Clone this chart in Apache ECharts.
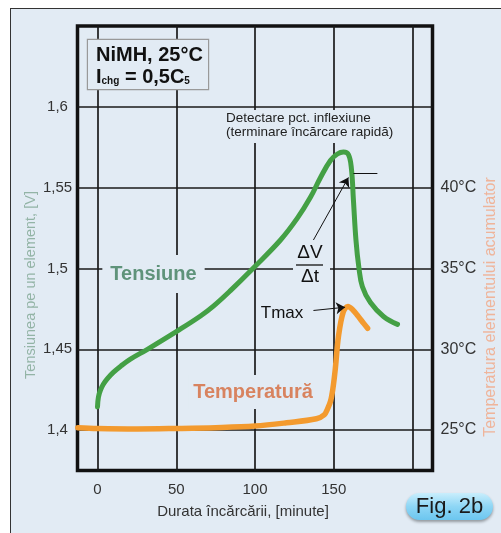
<!DOCTYPE html>
<html><head><meta charset="utf-8">
<script src="https://cdn.jsdelivr.net/npm/echarts@6/dist/echarts.min.js"></script>
<style>
html,body{margin:0;padding:0;background:#fff;}
#frame{position:absolute;left:10px;top:8px;width:520px;height:560px;background:#e2ebf4;border-left:1.5px solid #333;border-top:1.5px solid #333;}
#c{position:absolute;left:0;top:0;width:501px;height:533px;}
</style>
</head><body><div id="frame"></div><div id="c"></div>
<script>
// ---- data ----
const timeTicks = [0, 50, 100, 150, 200];
const timeLabels = [0, 50, 100, 150];
const voltTicks = [1.4, 1.45, 1.5, 1.55, 1.6];
const tempLabels = [25, 30, 35, 40];

const voltageTime = [0, 0.6, 1.9, 3.8, 6.3, 10.2, 15.2, 20.9, 31.7, 50.8, 65.4, 73.6, 84.4, 99, 116.2, 126.9, 135.2, 141.6, 147.9, 152.3, 156.2, 159.3, 161.2, 162.5, 164.1, 165.9, 168.2, 173.3, 181.6, 190.5];
const voltageValues = [1.4144, 1.4205, 1.4248, 1.4285, 1.4319, 1.4359, 1.4399, 1.4439, 1.45, 1.4614, 1.4706, 1.4767, 1.4863, 1.5003, 1.5176, 1.5311, 1.544, 1.5563, 1.5668, 1.5708, 1.572, 1.5705, 1.5619, 1.5422, 1.5176, 1.501, 1.4887, 1.4789, 1.4703, 1.4654];

const tempTime = [-12.5, 0, 25, 50, 75, 100, 120, 139, 144, 146, 148, 149.5, 151, 153, 156, 159, 162, 165, 169, 171.5];
const tempValues = [25.15, 25.1, 25.07, 25.1, 25.15, 25.25, 25.45, 25.7, 25.95, 26.3, 26.8, 27.6, 28.8, 30.8, 32.3, 32.65, 32.45, 32.1, 31.6, 31.3];

const voltSeries = voltageTime.map((t, i) => [t, voltageValues[i]]);
const tempSeries = tempTime.map((t, i) => [t, tempValues[i]]);

const FONT = '"Liberation Sans", Arial, sans-serif';
const BG = '#e2ebf4';

const chart = echarts.init(document.getElementById('c'), null, {renderer: 'canvas'});
chart.setOption({
  animation: false,
  backgroundColor: 'transparent',
  textStyle: {fontFamily: FONT},
  grid: {left: 77.5, right: 68.5, top: 26, bottom: 62.5, show: true, borderWidth: 3.5, borderColor: '#111', backgroundColor: 'transparent'},
  xAxis: {
    type: 'value', min: -12.7, max: 212.7,
    axisLine: {show: false},
    axisTick: {show: false, customValues: timeTicks},
    axisLabel: {customValues: timeLabels, fontSize: 15, color: '#333', margin: 12, fontFamily: FONT},
    splitLine: {show: true, lineStyle: {color: '#1a1a1a', width: 1.7}}
  },
  yAxis: [{
    type: 'value', min: 1.375, max: 1.65,
    axisLine: {show: false},
    axisTick: {show: false, customValues: voltTicks},
    axisLabel: {customValues: voltTicks, fontSize: 15, color: '#333', margin: 20, align: 'center', fontFamily: FONT,
      formatter: v => String(+v.toFixed(2)).replace('.', ',')},
    splitLine: {show: true, lineStyle: {color: '#1a1a1a', width: 1.7}}
  }, {
    type: 'value', min: 22.5, max: 50, position: 'right',
    axisLine: {show: false},
    axisTick: {show: false, customValues: tempLabels},
    axisLabel: {customValues: tempLabels, fontSize: 16, color: '#333', margin: 8, fontFamily: FONT, formatter: v => v + '°C'},
    splitLine: {show: false}
  }],
  series: [{
    name: 'Tensiune', type: 'line', data: voltSeries, yAxisIndex: 0,
    smooth: 0.4, showSymbol: false, symbol: 'none', z: 3,
    lineStyle: {color: '#44a045', width: 5, cap: 'round', join: 'round'},
    markLine: {
      silent: true, symbol: ['none', 'arrow'], symbolSize: 9,
      label: {show: false},
      lineStyle: {color: '#111', width: 1, type: 'solid'},
      data: [
        [{coord: [137.1, 1.5176]}, {coord: [159.3, 1.5563]}],
        [{coord: [162.5, 1.559], symbol: 'none'}, {coord: [177.7, 1.559], symbol: 'none'}]
      ]
    }
  }, {
    name: 'Temperatură', type: 'line', data: tempSeries, yAxisIndex: 1,
    smooth: 0.35, showSymbol: false, symbol: 'none', z: 3,
    lineStyle: {color: '#f39a2e', width: 5.5, cap: 'round', join: 'round'},
    markLine: {
      silent: true, symbol: ['none', 'arrow'], symbolSize: 9,
      label: {show: false},
      lineStyle: {color: '#111', width: 1, type: 'solid'},
      data: [[{coord: [137.1, 32.4]}, {coord: [157.2, 32.6]}]]
    }
  }],
  graphic: [
    {type: 'text', z: 10, x: 88, y: 40, style: {
      text: '{b|NiMH, 25°C}\n{b|I}{s|chg}{b| = 0,5C}{s|5}',
      backgroundColor: BG, borderColor: '#999', borderWidth: 1.2,
      padding: [4, 6, 4, 8], width: 106, height: 41,
      rich: {
        b: {fontFamily: FONT, fontWeight: 'bold', fontSize: 20, fill: '#111', lineHeight: 22},
        s: {fontFamily: FONT, fontWeight: 'bold', fontSize: 10, fill: '#111', lineHeight: 22, padding: [9, 0, 0, 0]}
      }
    }},
    {type: 'text', z: 10, x: 224, y: 110, style: {
      text: 'Detectare pct. inflexiune\n(terminare încărcare rapidă)',
      font: '13.5px ' + FONT, fill: '#222', lineHeight: 14,
      backgroundColor: BG, padding: [1, 2, 4, 2]
    }},
    {type: 'text', z: 10, x: 153.5, y: 274, style: {
      text: 'Tensiune', font: 'bold 20px ' + FONT, fill: '#5f937a',
      align: 'center', verticalAlign: 'middle', backgroundColor: BG, padding: [8, 8, 10, 8]
    }},
    {type: 'rect', z: 10, shape: {x: 293, y: 240, width: 37, height: 48}, style: {fill: BG}},
    {type: 'text', z: 11, x: 310, y: 253, style: {text: 'ΔV', font: '19px ' + FONT, fill: '#111', align: 'center', verticalAlign: 'middle'}},
    {type: 'line', z: 11, shape: {x1: 296, y1: 265, x2: 323, y2: 265}, style: {stroke: '#111', lineWidth: 1.3}},
    {type: 'text', z: 11, x: 310, y: 277, style: {text: 'Δt', font: '19px ' + FONT, fill: '#111', align: 'center', verticalAlign: 'middle'}},
    {type: 'text', z: 10, x: 282, y: 313, style: {
      text: 'Tmax', font: '17px ' + FONT, fill: '#111',
      align: 'center', verticalAlign: 'middle', backgroundColor: BG, padding: [6, 4, 6, 4]
    }},
    {type: 'text', z: 10, x: 253, y: 392, style: {
      text: 'Temperatură', font: 'bold 20px ' + FONT, fill: '#d8835f',
      align: 'center', verticalAlign: 'middle', backgroundColor: BG, padding: [6, 5, 8, 5]
    }},
    {type: 'text', z: 10, x: 31, y: 285, rotation: Math.PI / 2, style: {
      text: 'Tensiunea pe un element, [V]', font: '14.5px ' + FONT, fill: '#93b4a6',
      align: 'center', verticalAlign: 'middle'
    }},
    {type: 'text', z: 10, x: 491, y: 307, rotation: Math.PI / 2, style: {
      text: 'Temperatura elementului acumulator', font: '16px ' + FONT, fill: '#efb49a',
      align: 'center', verticalAlign: 'middle'
    }},
    {type: 'text', z: 10, x: 243, y: 512, style: {
      text: 'Durata încărcării, [minute]', font: '15px ' + FONT, fill: '#333',
      align: 'center', verticalAlign: 'middle'
    }},
    {type: 'rect', z: 10, shape: {x: 406, y: 493, width: 87, height: 27, r: 13.5},
      style: {fill: new echarts.graphic.LinearGradient(0, 0, 0, 1, [{offset: 0, color: '#c9eefc'}, {offset: 0.5, color: '#8ed6f5'}, {offset: 1, color: '#6cc6ef'}]),
        shadowColor: 'rgba(0,0,0,0.35)', shadowBlur: 3, shadowOffsetY: 2}},
    {type: 'text', z: 11, x: 449.5, y: 507, style: {
      text: 'Fig. 2b', font: '22px ' + FONT, fill: '#1a1a1a', align: 'center', verticalAlign: 'middle'
    }}
  ]
});
</script>
</body></html>
